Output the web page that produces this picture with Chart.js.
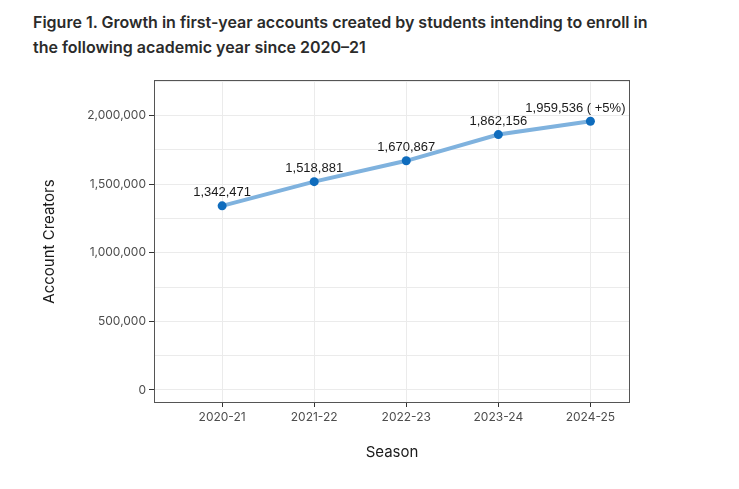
<!DOCTYPE html>
<html><head><meta charset="utf-8">
<script src="https://cdn.jsdelivr.net/npm/chart.js@4"></script>
<style>
html,body{margin:0;padding:0;background:#fff;width:739px;height:489px;overflow:hidden}
#title{position:absolute;left:33px;top:10px;font-family:Inter,"Open Sans",sans-serif;font-weight:600;font-size:16px;line-height:25px;color:#2b2b2b;letter-spacing:0}
#wrap{position:absolute;left:0;top:0;width:739px;height:489px}
</style></head><body>
<div id="title">Figure 1. Growth in first-year accounts created by students intending to enroll in<br>the following academic year since 2020–21</div>
<div id="wrap"><canvas id="c" width="739" height="489"></canvas></div>
<script>
const seasons = ["2020-21","2021-22","2022-23","2023-24","2024-25"];
const accountCreators = [1342471,1518881,1670867,1862156,1959536];
const pointLabels = ["1,342,471","1,518,881","1,670,867","1,862,156","1,959,536 ( +5%)"];
const yTickValues = [0,500000,1000000,1500000,2000000];
const yGridValues = [0,250000,500000,750000,1000000,1250000,1500000,1750000,2000000,2250000];

const panelPlugin = {
  id:'panel',
  afterDraw(chart){
    const {ctx, chartArea:a} = chart;
    ctx.save();
    ctx.strokeStyle='#555';ctx.lineWidth=1;
    ctx.strokeRect(Math.round(a.left)+0.5,Math.round(a.top)+0.5,Math.round(a.right-a.left)-1,Math.round(a.bottom-a.top)-1);
    ctx.restore();
  },
  afterDatasetsDraw(chart){
    const {ctx} = chart;
    const meta = chart.getDatasetMeta(0);
    ctx.save();
    ctx.font='13px "Liberation Sans", Arial, sans-serif';
    ctx.fillStyle='#1a1a1a';ctx.textAlign='center';ctx.textBaseline='middle';
    meta.data.forEach((p,i)=>{
      const dx = i===pointLabels.length-1 ? -15 : 0;
      ctx.fillText(pointLabels[i], p.x+dx, p.y-13);
    });
    ctx.restore();
  }
};

new Chart(document.getElementById('c'),{
  type:'line',
  data:{datasets:[{
    data: accountCreators.map((v,i)=>({x:i,y:v})),
    borderColor:'#7fb2de',borderWidth:4,
    pointBackgroundColor:'#0f6cbd',pointBorderColor:'#0f6cbd',pointRadius:4.5,pointBorderWidth:0,
    tension:0
  }]},
  options:{
    responsive:false,animation:false,
    layout:{padding:{top:80,right:109,left:0,bottom:0}},
    plugins:{legend:{display:false},tooltip:{enabled:false}},
    scales:{
      x:{type:'linear',min:-0.74,max:4.43,
        afterBuildTicks(s){s.ticks=seasons.map((_,i)=>({value:i}));},
        afterFit(s){s.height=86;},
        ticks:{callback:v=>seasons[v],color:'#4d4d4d',font:{family:'Inter, "Open Sans", sans-serif',size:12},padding:3,maxRotation:0,autoSkip:false},
        grid:{color:'#ebebeb',lineWidth:1,tickLength:4,tickColor:'#333'},
        border:{display:false},
        title:{display:true,text:'Season',color:'#1a1a1a',font:{family:'Inter, "Open Sans", sans-serif',size:15},padding:{top:0,bottom:28}}
      },
      y:{type:'linear',min:-95000,max:2260000,
        afterBuildTicks(s){s.ticks=yGridValues.map(v=>({value:v}));},
        afterFit(s){s.width=154;},
        ticks:{callback:v=>yTickValues.includes(v)?v.toLocaleString('en-US'):'',color:'#4d4d4d',font:{family:'Inter, "Open Sans", sans-serif',size:12},padding:3,autoSkip:false},
        grid:{color:'#ebebeb',lineWidth:1,tickLength:5,tickColor:c=>yTickValues.includes(c.tick&&c.tick.value)?'#333':'rgba(0,0,0,0)'},
        border:{display:false},
        title:{display:true,text:'Account Creators',color:'#1a1a1a',font:{family:'Inter, "Open Sans", sans-serif',size:15},padding:{top:40,bottom:0}}
      }
    }
  },
  plugins:[panelPlugin]
});
</script>
</body></html>
